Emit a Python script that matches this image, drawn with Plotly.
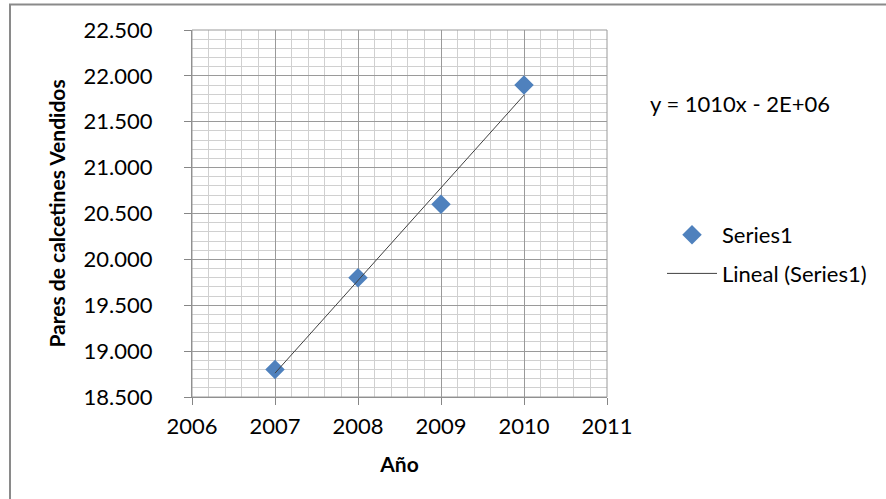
import plotly.graph_objects as go
import numpy as np

years = [2007, 2008, 2009, 2010]
pares = [18800, 19800, 20600, 21900]
series_name = "Series1"
trend_name = "Lineal (Series1)"
x_title = "Año"
y_title = "Pares de calcetines Vendidos"
x_ticks = [2006, 2007, 2008, 2009, 2010, 2011]
y_ticks = [18500, 19000, 19500, 20000, 20500, 21000, 21500, 22000, 22500]

# Linear trendline (least squares), as Excel does
slope, intercept = np.polyfit(years, pares, 1)
trend_x = [years[0], years[-1]]
trend_y = [slope * v + intercept for v in trend_x]
eq_text = "y = %dx - 2E+06" % round(slope)

FONT = "Lato"
FS = 22
W, H = 886, 499
L, R, T, B = 192, 607, 30, 397

fig = go.Figure()
fig.add_trace(go.Scatter(
    x=years, y=pares, mode="markers", name=series_name, legendgroup="a",
    marker=dict(symbol="diamond", size=15, color="#4F81BD",
                line=dict(width=0)),
))
fig.add_trace(go.Scatter(
    x=trend_x, y=trend_y, mode="lines", name=trend_name, legendgroup="b",
    line=dict(color="#404040", width=1),
))

def px_x(p):
    return (p - L) / (R - L)

def px_y(p):
    return (B - p) / (B - T)

fig.update_layout(
    width=W, height=H,
    margin=dict(l=L, r=W - R, t=T, b=H - B),
    paper_bgcolor="white", plot_bgcolor="white",
    separators=",.",
    font=dict(family=FONT, size=FS, color="#000000"),
    showlegend=True,
    legend=dict(x=px_x(662), y=px_y(214), xanchor="left", yanchor="top",
                font=dict(size=FS, family=FONT), tracegroupgap=7,
                itemwidth=50, bgcolor="rgba(0,0,0,0)"),
    xaxis=dict(
        range=[x_ticks[0], x_ticks[-1]], tickvals=x_ticks, tickformat="d",
        showgrid=True, gridcolor="#9a9a9a", gridwidth=1,
        minor=dict(dtick=0.2, showgrid=True, gridcolor="#d0d0d0", gridwidth=1),
        showline=True, linecolor="#868686", linewidth=1, mirror=False,
        ticks="outside", ticklen=7, tickcolor="#868686",
        tickfont=dict(size=FS, family=FONT), ticklabelstandoff=3,
        title=dict(text="<b>%s</b>" % x_title, font=dict(size=FS - 1, family=FONT), standoff=18),
        zeroline=False,
    ),
    yaxis=dict(
        range=[y_ticks[0], y_ticks[-1]], tickvals=y_ticks, tickformat=",d",
        showgrid=True, gridcolor="#9a9a9a", gridwidth=1,
        minor=dict(dtick=100, showgrid=True, gridcolor="#d0d0d0", gridwidth=1),
        showline=True, linecolor="#868686", linewidth=1,
        ticks="outside", ticklen=7, tickcolor="#868686",
        tickfont=dict(size=FS, family=FONT), ticklabelstandoff=27,
        title=dict(text="<b>%s</b>" % y_title, font=dict(size=FS - 1, family=FONT), standoff=12),
        zeroline=False,
    ),
    shapes=[
        dict(type="line", xref="paper", yref="paper",
             x0=px_x(9), x1=px_x(886), y0=px_y(4.5), y1=px_y(4.5),
             line=dict(color="#8a8a8a", width=2)),
        dict(type="line", xref="paper", yref="paper",
             x0=px_x(10), x1=px_x(10), y0=px_y(4), y1=px_y(499),
             line=dict(color="#8a8a8a", width=2)),
        dict(type="rect", xref="paper", yref="paper",
             x0=0, x1=1, y0=0, y1=1,
             line=dict(color="#9a9a9a", width=1), fillcolor="rgba(0,0,0,0)"),
    ],
    annotations=[
        dict(text=eq_text, xref="paper", yref="paper",
             x=px_x(648), y=px_y(104), xanchor="left", yanchor="middle",
             showarrow=False, font=dict(size=FS, family=FONT)),
    ],
)

fig.write_html("out.html", config={"displayModeBar": False},
               post_script="document.body.style.margin='0';document.body.style.padding='0';")
